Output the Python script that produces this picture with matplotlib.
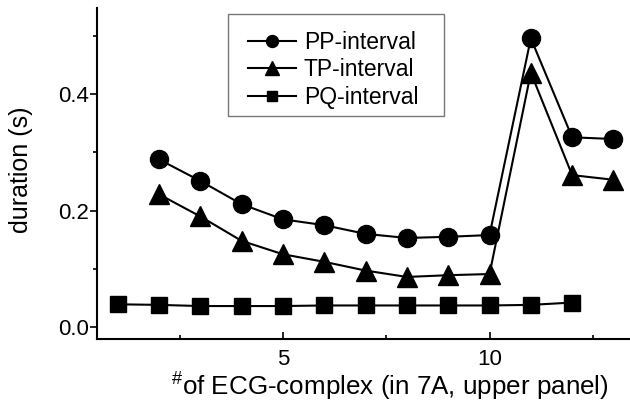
import matplotlib
matplotlib.use("Agg")
import matplotlib.pyplot as plt
from matplotlib.ticker import MultipleLocator
from matplotlib.patches import Rectangle

plt.rcParams['font.family'] = ['Liberation Sans', 'DejaVu Sans']
plt.rcParams['mathtext.fontset'] = 'custom'
plt.rcParams['mathtext.rm'] = 'Liberation Sans'
plt.rcParams['mathtext.it'] = 'Liberation Sans:italic'

x_pp = [2, 3, 4, 5, 6, 7, 8, 9, 10, 11, 12, 13]
pp = [0.288, 0.251, 0.211, 0.185, 0.175, 0.160, 0.153, 0.155, 0.158, 0.496, 0.326, 0.323]
x_tp = [2, 3, 4, 5, 6, 7, 8, 9, 10, 11, 12, 13]
tp = [0.228, 0.190, 0.148, 0.125, 0.112, 0.097, 0.086, 0.089, 0.091, 0.437, 0.261, 0.253]
x_pq = [1, 2, 3, 4, 5, 6, 7, 8, 9, 10, 11, 12]
pq = [0.039, 0.038, 0.036, 0.036, 0.036, 0.037, 0.037, 0.037, 0.037, 0.037, 0.038, 0.042]

fig = plt.figure(figsize=(6.3, 4.05), dpi=100)
ax = fig.add_axes([0.154, 0.163, 0.846, 0.817])

ax.plot(x_pp, pp, '-o', color='black', lw=1.5, ms=13, label='PP-interval')
ax.plot(x_tp, tp, '-^', color='black', lw=1.5, ms=14, label='TP-interval')
ax.plot(x_pq, pq, '-s', color='black', lw=1.5, ms=12, label='PQ-interval')

ax.set_xlim(0.5, 13.4)
ax.set_ylim(-0.0206, 0.548)
ax.spines['top'].set_visible(False)
ax.spines['right'].set_visible(False)
ax.spines['left'].set_linewidth(1.5)
ax.spines['bottom'].set_linewidth(1.5)

ax.xaxis.set_minor_locator(MultipleLocator(2.5))
ax.yaxis.set_minor_locator(MultipleLocator(0.1))
ax.set_yticks([0.0, 0.2, 0.4])
ax.set_yticklabels(['0.0', '0.2', '0.4'])
ax.set_xticks([5, 10])

ax.tick_params(axis='x', which='major', direction='in', length=5, width=1.2, labelsize=16, pad=7)
ax.tick_params(axis='x', which='minor', direction='in', length=3, width=1.2)
ax.tick_params(axis='y', which='major', direction='out', length=5, width=1.2, labelsize=16, pad=1)
ax.tick_params(axis='y', which='minor', direction='out', length=3, width=1.2)

ax.set_xlabel(r'$^{\#}$of ECG-complex (in 7A, upper panel)', fontsize=18.7)
ax.set_ylabel('duration (s)', fontsize=18)
ax.xaxis.set_label_coords(0.55, -0.097)
ax.yaxis.set_label_coords(-0.12, 0.51)

# legend frame (Origin-style box)
frame = Rectangle((0.246, 0.674), 0.651 - 0.246, 0.982 - 0.674, transform=ax.transAxes,
                  facecolor='white', edgecolor='#777777', linewidth=1.0, zorder=4,
                  clip_on=False)
ax.add_patch(frame)

leg = ax.legend(loc='upper left', bbox_to_anchor=(0.283, 0.932), fontsize=16.5,
                handlelength=2.1, labelspacing=0.2, borderpad=0,
                handletextpad=0.35, borderaxespad=0, frameon=False)
leg.set_zorder(5)
for h, ms in zip(leg.legend_handles, [8.6, 10, 6.5]):
    h.set_markersize(ms)

fig.savefig('out.png', dpi=100)
